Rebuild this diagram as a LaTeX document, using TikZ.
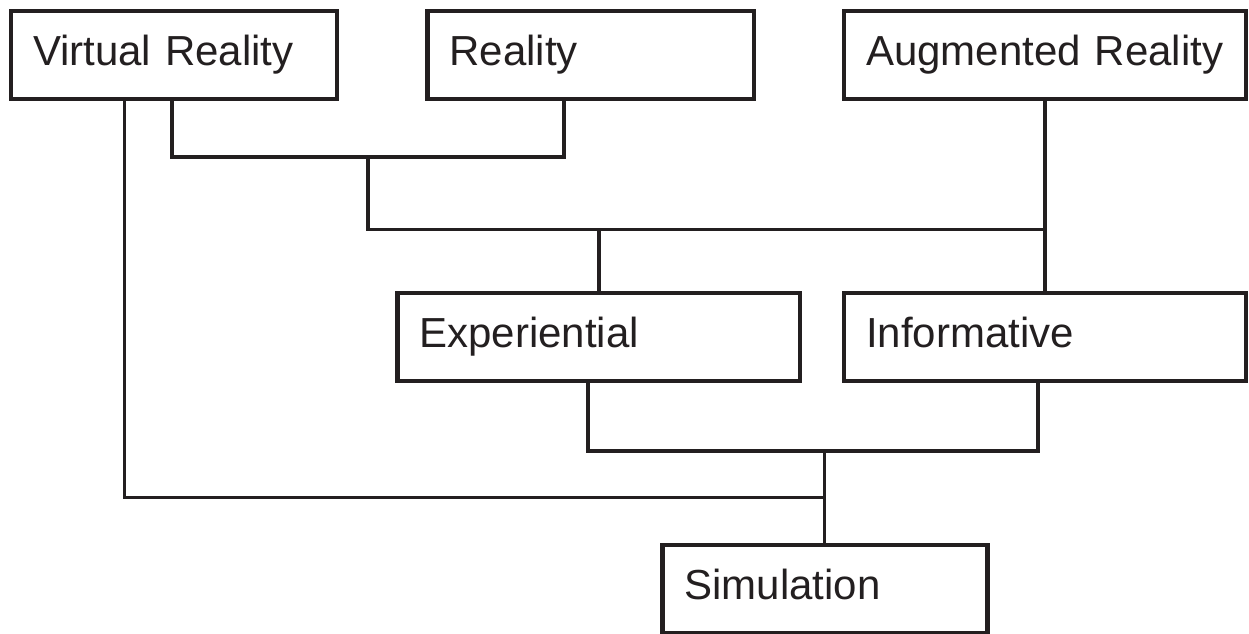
\documentclass[tikz,border=0pt]{standalone}
\usepackage{fontspec}
\setmainfont{Liberation Sans}
\definecolor{ink}{HTML}{231F20}
\begin{document}
\begin{tikzpicture}[x=1pt,y=-1pt,
  box/.style={draw=ink, text=ink, line width=4.6pt, outer sep=0pt,
    inner xsep=22pt, inner ysep=0pt, text width=#1, align=left,
    minimum height=88pt, text height=30pt, text depth=10pt,
    font=\fontsize{42}{50}\selectfont, anchor=north west},
  link/.style={draw=ink, line width=3.2pt}]
\useasboundingbox (0,0) rectangle (1249,633);

% boxes
\node[box=282pt] (vr)      at (11,11)      {Virtual Reality};
\node[box=282.5pt] (real)  at (427.5,11)   {Reality};
\node[box=358pt] (ar)      at (844,11)     {Augmented Reality};
\node[box=358.5pt] (exp)   at (397.5,293)  {Experiential};
\node[box=358pt] (inf)     at (844,293)    {Informative};
\node[box=281pt] (sim)     at (662.5,545)  {Simulation};

% junction points
\coordinate (jA) at (172,157);
\coordinate (jB) at (564,157);
\coordinate (jC) at (368,157);
\coordinate (jE) at (1045,229.5);
\coordinate (jF) at (599,229.5);
\coordinate (jG) at (588,451);
\coordinate (jH) at (1038,451);
\coordinate (jI) at (824.5,451);
\coordinate (jJ) at (124.5,497.5);
\coordinate (jK) at (824.5,497.5);

% connectors
\draw[link] (vr.south -| jA) |- (jB) -- (real.south -| jB);
\draw[link] (jC) |- (jE);
\draw[link] (ar.south -| jE) -- (inf.north -| jE);
\draw[link] (jF) -- (exp.north -| jF);
\draw[link] (exp.south -| jG) |- (jH) -- (inf.south -| jH);
\draw[link] (jI) -- (sim.north -| jI);
\draw[link] (vr.south -| jJ) |- (jK);
\end{tikzpicture}
\end{document}
